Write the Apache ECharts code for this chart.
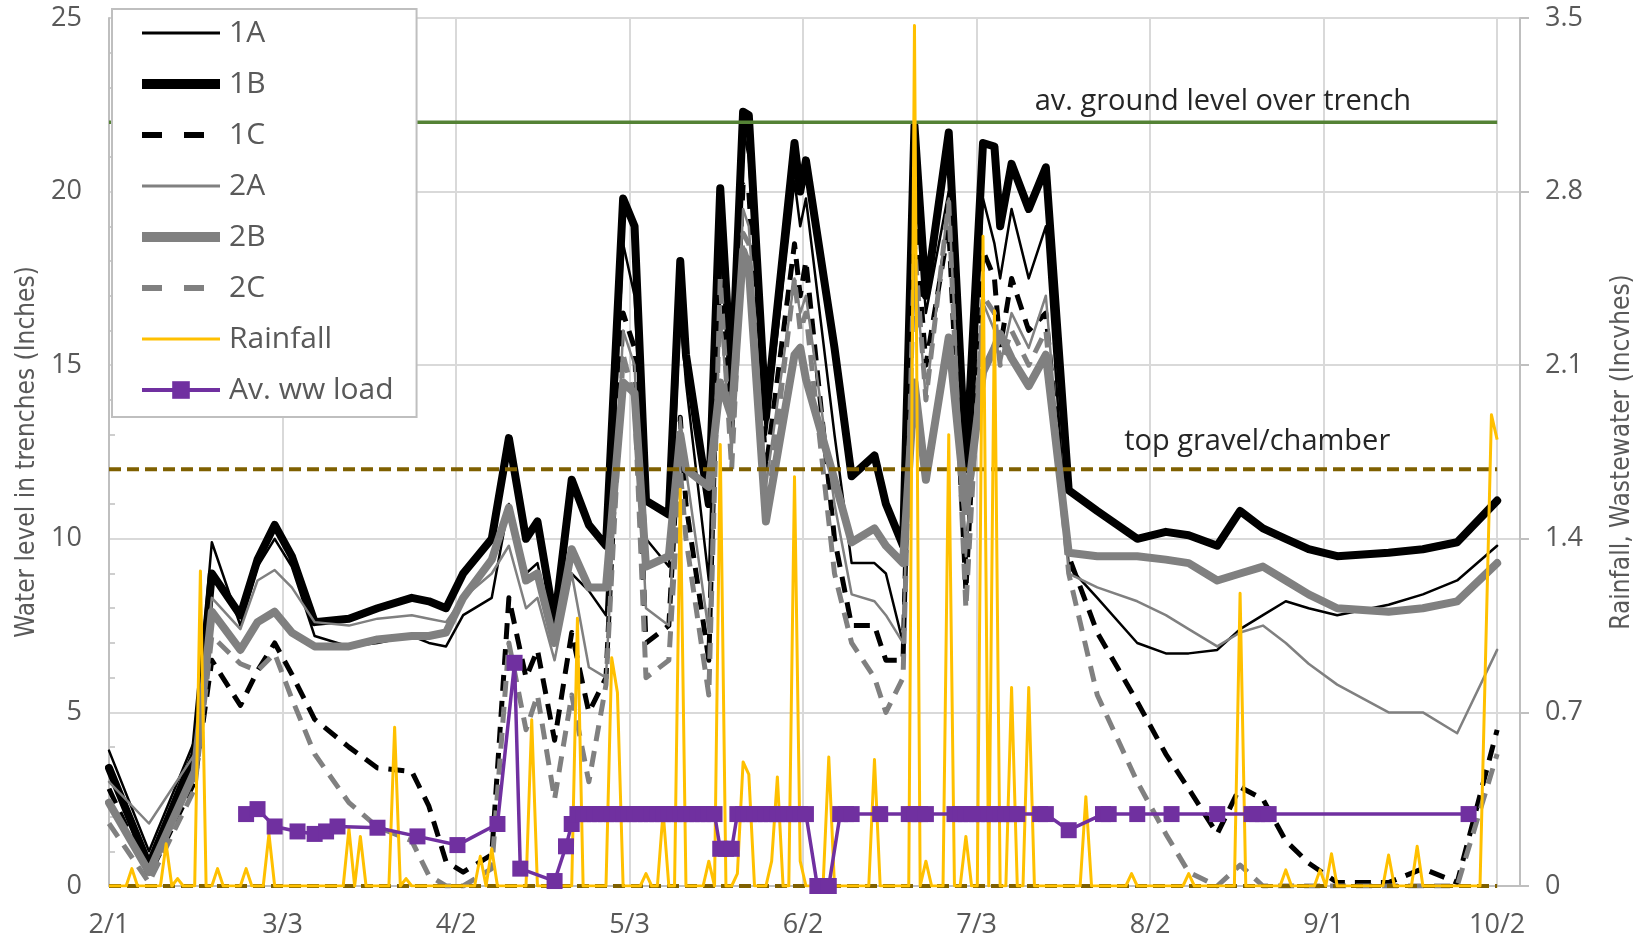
<!DOCTYPE html>
<html>
<head>
<meta charset="utf-8">
<script src="https://cdn.jsdelivr.net/npm/echarts@6/dist/echarts.min.js"></script>
<style>
html,body{margin:0;padding:0;background:#ffffff;}
#c{width:1644px;height:939px;}
</style>
</head>
<body>
<div id="c"></div>
<script>
// ---------- data ----------
const tickLabels = ['2/1','3/3','4/2','5/3','6/2','7/3','8/2','9/1','10/2'];
const tickStep = 30.375;            // days between labelled ticks
const axisMaxDay = 247;

// measurement days (days after 2/1)
const days = [0,7,15,18,23,26,29,32,36,42,47,53,56,59,62,67,70,73,75,78,81,84,87,90,92,94,98,100,101,105,107,109,111,112,115,120,121,122,127,130,134,136,139,141,143,147,150,153,155,156,158,161,164,168,173,180,185,189,194,198,202,206,210,215,224,230,236,243];

const level1A = [3.9,1.0,4.2,9.9,7.5,9.2,10.0,9.2,7.2,6.9,
  7.0,7.2,7.0,6.9,7.8,8.3,11.0,9.0,9.3,7.0,
  9.0,8.5,7.8,18.5,17.0,10.0,9.2,16.5,14.5,8.8,
  19.5,14.0,21.8,21.0,13.0,20.3,19.0,19.8,13.0,9.3,
  9.3,9.0,7.0,21.0,16.5,20.0,9.0,19.8,18.5,17.5,
  19.5,17.5,19.0,9.2,8.3,7.0,6.7,6.7,6.8,7.4,
  7.8,8.2,8.0,7.8,8.1,8.4,8.8,9.8];
const level1B = [3.4,0.6,3.8,9.0,7.8,9.4,10.4,9.5,7.6,7.7,
  8.0,8.3,8.2,8.0,9.0,10.0,12.9,10.0,10.5,7.6,
  11.7,10.4,9.8,19.8,19.0,11.1,10.7,18.0,15.3,11.0,
  20.1,14.5,22.3,22.2,13.5,21.4,20.0,20.9,15.5,11.8,
  12.4,11.0,9.8,21.9,17.0,21.7,12.0,21.4,21.3,19.0,
  20.8,19.5,20.7,11.4,10.8,10.0,10.2,10.1,9.8,10.8,
  10.3,10.0,9.7,9.5,9.6,9.7,9.9,11.1];
const level1C = [2.8,0.3,3.0,6.5,5.2,6.2,7.0,6.1,4.8,4.0,
  3.4,3.3,2.3,0.7,0.4,0.9,8.3,6.0,6.8,4.2,
  7.3,5.0,6.0,16.5,15.5,7.0,7.5,13.5,11.0,6.5,
  18.5,13.0,20.2,20.0,12.0,18.5,17.0,18.0,10.0,7.5,
  7.5,6.5,6.5,19.5,15.0,19.0,8.5,18.3,17.5,15.5,
  17.5,16.0,16.5,9.5,7.3,5.3,3.8,2.8,1.5,2.85,
  2.5,1.3,0.66,0.1,0.1,0.5,0.1,4.5];
const level2A = [3.0,1.8,3.8,8.3,7.4,8.8,9.1,8.6,7.6,7.5,
  7.7,7.8,7.7,7.6,8.3,9.0,9.8,8.0,8.3,6.5,
  9.0,6.3,6.0,16.0,15.0,8.0,7.5,13.5,12.0,7.3,
  16.5,12.5,19.5,19.0,11.5,17.5,16.5,17.0,11.0,8.4,
  8.2,7.8,7.0,18.0,14.0,19.8,9.5,16.8,16.0,15.0,
  16.5,15.5,17.0,9.0,8.6,8.2,7.8,7.4,6.9,7.3,
  7.5,7.0,6.4,5.8,5.0,5.0,4.4,6.8];
const level2B = [2.4,0.4,3.3,7.9,6.8,7.6,7.9,7.3,6.9,6.9,
  7.1,7.2,7.2,7.3,8.3,9.4,10.9,8.8,9.0,7.0,
  9.7,8.6,8.6,14.5,14.2,9.2,9.5,13.0,12.0,11.5,
  14.5,13.5,18.3,17.8,10.5,15.3,15.5,14.6,11.7,9.9,
  10.3,9.8,9.3,14.5,11.7,15.8,10.8,14.8,15.5,15.9,
  15.2,14.4,15.3,9.6,9.5,9.5,9.4,9.3,8.8,9.0,
  9.2,8.8,8.4,8.0,7.9,8.0,8.2,9.3];
const level2C = [1.8,0.1,2.8,7.2,6.4,6.2,6.7,5.4,3.8,2.4,
  1.7,1.3,0.3,0.0,0.0,0.5,7.0,4.5,5.5,2.5,
  5.5,3.0,5.8,15.3,14.0,6.0,6.5,12.0,10.0,5.5,
  17.5,12.0,18.8,18.5,10.5,17.5,16.0,16.5,9.0,7.0,
  6.0,5.0,6.0,18.5,14.0,19.7,8.0,17.0,16.5,15.0,
  16.0,15.0,16.0,9.0,5.5,3.0,1.5,0.4,0.0,0.6,
  0.0,0.0,0.0,0.0,0.0,0.0,0.0,3.8];

// daily rainfall (inches), day 0 = 2/1
const rainfall = [
  0,0,0,0,0.07,0,0,0,0,0,
  0.17,0,0.03,0,0,0,1.27,0,0,0.07,
  0,0,0,0,0.07,0,0,0,0.21,0,
  0,0,0,0,0,0,0,0,0,0,
  0,0,0.23,0,0.2,0,0,0,0,0,
  0.64,0,0.03,0,0,0,0,0,0,0,
  0,0,0,0,0,0.12,0,0.15,0,0,
  0,0,0,0,0.67,0,0,0,0,0,
  0,0,1.08,0,0,0,0,0,0.92,0.78,
  0,0,0,0,0.05,0,0,0.3,0,0,
  1.6,0,0,0,0,0.1,0,1.78,0,0,
  0.05,0.5,0.45,0,0,0,0.1,0.44,0,0,
  1.65,0.1,0,0,0,0,0.52,0,0,0,
  0,0,0,0,0.51,0,0,0,0,0,
  0,3.47,0,0.1,0,0,0,1.82,0,0,
  0.2,0,0,2.62,0,2.32,0,0,0.8,0,
  0,0.8,0,0,0,0,0,0,0,0,
  0,0.36,0,0,0,0,0,0,0,0.05,
  0,0,0,0,0,0,0,0,0,0.05,
  0,0,0,0,0,0,0,0,1.18,0,
  0,0,0,0,0,0,0.065,0,0,0,
  0,0,0.065,0,0.13,0,0,0,0,0,
  0,0,0,0,0.125,0,0,0,0,0.16,
  0,0,0,0,0,0,0,0,0,0,
  0,0.95,1.9,1.8];

// average wastewater load (inches)
const wwDays = [24,26,29,33,36,38,40,47,54,61,68,71,72,78,80,81,
  82,83,84,85,86,87,88,89,90,91,92,93,94,95,96,97,98,99,100,101,102,103,104,105,106,
  107,108,109,
  110,111,112,113,114,115,116,117,118,119,120,121,122,
  124,126,
  128,129,130,135,140,141,142,143,
  148,149,150,151,152,153,154,155,156,157,158,159,
  163,164,168,174,175,180,186,194,200,201,202,203,238];
const wwLoad = [0.29,0.31,0.24,0.22,0.21,0.22,0.24,0.235,0.2,0.165,0.25,0.9,0.07,0.02,0.16,0.25,
  0.29,0.29,0.29,0.29,0.29,0.29,0.29,0.29,0.29,0.29,0.29,0.29,0.29,0.29,0.29,0.29,0.29,0.29,0.29,0.29,0.29,0.29,0.29,0.29,0.29,
  0.15,0.15,0.15,
  0.29,0.29,0.29,0.29,0.29,0.29,0.29,0.29,0.29,0.29,0.29,0.29,0.29,
  0,0,
  0.29,0.29,0.29,0.29,0.29,0.29,0.29,0.29,
  0.29,0.29,0.29,0.29,0.29,0.29,0.29,0.29,0.29,0.29,0.29,0.29,
  0.29,0.29,0.225,0.29,0.29,0.29,0.29,0.29,0.29,0.29,0.29,0.29,0.29];

const groundLevel = 22;      // av. ground level over trench
const gravelTop = 12;        // top gravel/chamber
const trenchBase = 0;
const lineEndDay = 243;

// ---------- chart ----------
const FONT = "'Open Sans', 'Noto Sans', sans-serif";
const NARROW = "'Liberation Sans Narrow', 'DejaVu Sans Condensed', sans-serif";
const pairs = (xs, ys) => xs.map((x, i) => [x, ys[i]]);

function levelSeries(name, values, color, width, dashed) {
  return {
    name, type: 'line', xAxisIndex: 0, yAxisIndex: 0,
    data: pairs(days, values),
    symbol: 'none', showSymbol: false,
    lineStyle: {color, width, type: dashed ? [16, 10] : 'solid', cap: dashed ? 'butt' : 'round', join: 'round'},
    itemStyle: {color},
    emphasis: {disabled: true},
    animation: false
  };
}
function refLine(value, color, width, type, labelText, labelDay, labelGap) {
  const s = {
    type: 'line', xAxisIndex: 0, yAxisIndex: 0,
    data: [[0, value], [lineEndDay, value]],
    symbol: 'none', showSymbol: false,
    lineStyle: {color, width, type},
    emphasis: {disabled: true}, silent: true, animation: false
  };
  if (labelText) {
    s.markPoint = {
      symbol: 'circle', symbolSize: 0, silent: true, animation: false,
      data: [{coord: [labelDay, value]}],
      label: {show: true, position: 'top', distance: labelGap, formatter: labelText,
        color: '#262626', fontFamily: FONT, fontSize: 29}
    };
  }
  return s;
}
const legendLine = (name, width, type) => ({name, itemStyle: {opacity: 0}, lineStyle: {width, type, cap: 'butt'}});

const chart = echarts.init(document.getElementById('c'), null, {renderer: 'canvas'});
const option = {
  backgroundColor: '#ffffff',
  animation: false,
  grid: {left: 109, right: 124, top: 18, bottom: 53, containLabel: false},
  xAxis: {
    type: 'value', min: 0, max: axisMaxDay, interval: tickStep,
    axisLine: {show: true, lineStyle: {color: '#bfbfbf', width: 2}},
    axisTick: {show: false},
    splitLine: {show: true, lineStyle: {color: '#d9d9d9', width: 2}},
    axisLabel: {
      margin: 26, color: '#595959', fontFamily: FONT, fontSize: 27,
      showMaxLabel: false,
      formatter: v => {
        const k = v / tickStep, r = Math.round(k);
        return Math.abs(k - r) < 1e-6 ? (tickLabels[r] || '') : '';
      }
    }
  },
  yAxis: [{
    type: 'value', min: 0, max: 25, interval: 5,
    name: 'Water level in trenches (Inches)', nameLocation: 'middle', nameRotate: 90, nameGap: 66,
    nameTextStyle: {color: '#595959', fontFamily: NARROW, fontSize: 26},
    axisLine: {show: true, lineStyle: {color: '#bfbfbf', width: 2}},
    axisTick: {show: false, inside: true},
    minorTick: {show: true, splitNumber: 5, length: 6, lineStyle: {color: '#bfbfbf', width: 1.5}},
    splitLine: {show: true, lineStyle: {color: '#d9d9d9', width: 2}},
    axisLabel: {margin: 27, color: '#595959', fontFamily: FONT, fontSize: 27}
  }, {
    type: 'value', min: 0, max: 3.5, interval: 0.7, position: 'right',
    name: 'Rainfall, Wastewater (Incvhes)', nameLocation: 'middle', nameRotate: 90, nameGap: 89,
    nameTextStyle: {color: '#595959', fontFamily: NARROW, fontSize: 26},
    axisLine: {show: true, lineStyle: {color: '#bfbfbf', width: 2}},
    axisTick: {show: true, length: 9, lineStyle: {color: '#bfbfbf', width: 2}},
    splitLine: {show: false},
    axisLabel: {margin: 25, color: '#595959', fontFamily: FONT, fontSize: 27}
  }],
  legend: {
    orient: 'vertical', left: 112, top: 9,
    padding: [9, 23, 12, 25], itemGap: 21, itemWidth: 78, itemHeight: 22,
    backgroundColor: '#ffffff', borderColor: '#bfbfbf', borderWidth: 2,
    selectedMode: false,
    textStyle: {color: '#595959', fontFamily: FONT, fontSize: 30, lineHeight: 30, padding: [0, 0, 0, 4]},
    data: [
      legendLine('1A', 3, 'solid'),
      legendLine('1B', 10, 'solid'),
      legendLine('1C', 6, [20, 22]),
      legendLine('2A', 3, 'solid'),
      legendLine('2B', 10, 'solid'),
      legendLine('2C', 6, [20, 22]),
      legendLine('Rainfall', 3, 'solid'),
      {name: 'Av. ww load', lineStyle: {width: 4}}
    ]
  },
  series: [
    levelSeries('1A', level1A, '#000000', 2.5, false),
    levelSeries('1B', level1B, '#000000', 8, false),
    levelSeries('1C', level1C, '#000000', 5, true),
    levelSeries('2A', level2A, '#808080', 2.5, false),
    levelSeries('2B', level2B, '#808080', 8, false),
    levelSeries('2C', level2C, '#808080', 5, true),
    refLine(groundLevel, '#548235', 3.5, 'solid', 'av. ground level over trench', 195, 6),
    refLine(gravelTop, '#7f6000', 4, [12, 6], 'top gravel/chamber', 201, 13),
    refLine(trenchBase, '#7f6000', 4, [12, 6], null),
    {
      name: 'Rainfall', type: 'line', xAxisIndex: 0, yAxisIndex: 1,
      data: rainfall.map((v, i) => [i, v]),
      symbol: 'none', showSymbol: false,
      lineStyle: {color: '#ffc000', width: 3, join: 'round'},
      itemStyle: {color: '#ffc000'},
      emphasis: {disabled: true}, animation: false
    },
    {
      name: 'Av. ww load', type: 'line', xAxisIndex: 0, yAxisIndex: 1,
      data: pairs(wwDays, wwLoad),
      symbol: 'rect', symbolSize: 16, showSymbol: true, showAllSymbol: true,
      lineStyle: {color: '#7030a0', width: 3.5, join: 'round'},
      itemStyle: {color: '#7030a0'},
      emphasis: {disabled: true}, animation: false
    }
  ]
};
chart.setOption(option);
</script>
</body>
</html>
